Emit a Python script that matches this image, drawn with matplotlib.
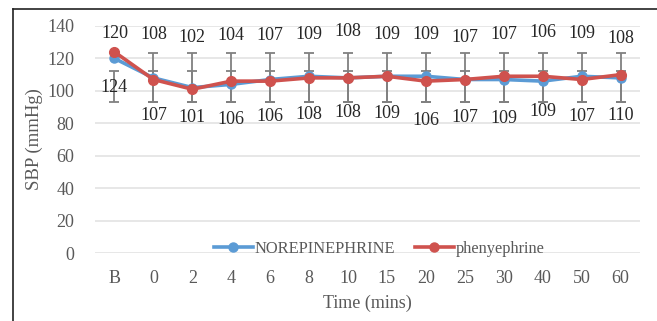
import matplotlib.pyplot as plt
from matplotlib.lines import Line2D
import numpy as np

categories = ["B", "0", "2", "4", "6", "8", "10", "15", "20", "25", "30", "40", "50", "60"]
norepinephrine = [120, 108, 102, 104, 107, 109, 108, 109, 109, 107, 107, 106, 109, 108]
phenyephrine = [124, 107, 101, 106, 106, 108, 108, 109, 106, 107, 109, 109, 107, 110]

# error bar bounds (mmHg)
nor_err_low = [np.nan, 93, 93, 93, 93, 93, 93, 93, 93, 93, 93, 93, 93, 93]
nor_err_high = [np.nan, 123.5, 123.5, 123.5, 123.5, 123.5, 123.5, 123.5, 123.5, 123.5, 123.5, 123.5, 123.5, 123.5]
phe_err_low = [93, 93, 93, 93, 93, 93, 93, 93, 93, 93, 93, 93, 93, 93]
phe_err_high = [112, 112, 112, 112, 112, 112, 112, 112, 112, 112, 112, 112, 112, 112]

BLUE = "#5b9bd5"
RED = "#cf524e"
GRAY = "#595959"
FONT = "Liberation Serif"

plt.rcParams["font.family"] = FONT

fig = plt.figure(figsize=(6.57, 3.21), dpi=100)
ax = fig.add_axes([95 / 657, 1 - 253 / 321, 545 / 657, 227 / 321])

x = np.arange(len(categories))

# error bars
for lo, hi in ((phe_err_low, phe_err_high), (nor_err_low, nor_err_high)):
    lo = np.array(lo, dtype=float)
    hi = np.array(hi, dtype=float)
    mid = (lo + hi) / 2
    ok = ~np.isnan(lo)
    ax.errorbar(x[ok], mid[ok], yerr=(hi[ok] - lo[ok]) / 2, fmt="none",
                ecolor="#808080", elinewidth=1.3, capsize=3.8, capthick=1.3, zorder=2)

ax.plot(x, norepinephrine, color=BLUE, lw=2.6, marker="o", ms=6.5, zorder=3)
ax.plot(x, phenyephrine, color=RED, lw=2.6, marker="o", ms=7, zorder=4)

# data labels: upper row = norepinephrine, lower row = phenyephrine
upper_dy = [2, 1, -2, 0, 0, 1, 4, 1, 1, -2, 1, 3, 2, -3]
lower_dy = [0, 0, -2, -4, -1, 1, 3, 2, -5, -2, -3, 4, -1, 0]
for i in range(len(categories)):
    ax.annotate(str(norepinephrine[i]), (x[i], 134), xytext=(0, upper_dy[i] * 0.72),
                textcoords="offset points", ha="center", va="center",
                fontsize=13, color="#262626", zorder=5)
    ly = 102 if i == 0 else 85
    ax.annotate(str(phenyephrine[i]), (x[i], ly), xytext=(0, lower_dy[i] * 0.72),
                textcoords="offset points", ha="center", va="center",
                fontsize=13, color="#262626", zorder=5)

ax.set_xlim(-0.5, len(categories) - 0.5)
ax.set_ylim(0, 140)
ax.set_yticks(range(0, 141, 20))
ax.set_xticks(x)
ax.set_xticklabels(categories)
ax.tick_params(length=0, labelsize=13, labelcolor=GRAY, pad=12)
ax.tick_params(axis="y", pad=15)
ax.yaxis.grid(True, color="#e3e3e3", lw=1.2)
ax.set_axisbelow(True)
for s in ax.spines.values():
    s.set_visible(False)

ax.set_ylabel("SBP (mmHg)", fontsize=13.5, color=GRAY, labelpad=3)
ax.set_xlabel("Time (mins)", fontsize=13, color=GRAY, labelpad=6)

handles = [
    Line2D([], [], color=BLUE, lw=2.6, marker="o", ms=6.5),
    Line2D([], [], color=RED, lw=2.6, marker="o", ms=6.5),
]
leg = ax.legend(handles, ["NOREPINEPHRINE", "phenyephrine"], ncol=2, frameon=False,
                loc="center", bbox_to_anchor=(379 / 657, 1 - 249 / 321),
                bbox_transform=fig.transFigure, fontsize=11.8, handlelength=2.4,
                handletextpad=0.1, columnspacing=1.2, labelcolor=GRAY)

# outer chart frame
fig.add_artist(plt.Line2D([13 / 657, 13 / 657], [0, 1 - 9 / 321], color="#222222",
                          lw=1.2, transform=fig.transFigure))
fig.add_artist(plt.Line2D([13 / 657, 1], [1 - 9 / 321, 1 - 9 / 321], color="#222222",
                          lw=1.2, transform=fig.transFigure))

fig.savefig("out.png", dpi=100)
